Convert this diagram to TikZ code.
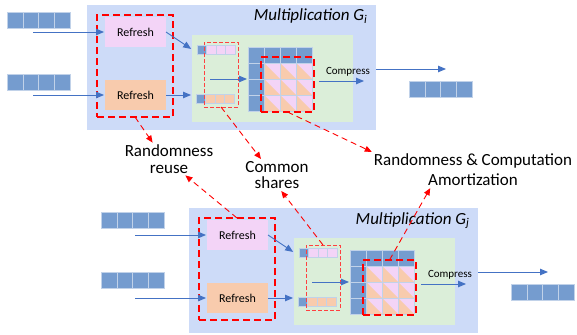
\documentclass[tikz,border=0pt]{standalone}
\usepackage{fontspec}
\setmainfont{Carlito}
\usetikzlibrary{arrows.meta}
\definecolor{mulblue}{RGB}{205,219,248}
\definecolor{mulgreen}{RGB}{219,238,217}
\definecolor{refpink}{RGB}{243,212,247}
\definecolor{reforange}{RGB}{248,203,173}
\definecolor{cellblue}{RGB}{117,156,207}
\definecolor{flowblue}{RGB}{68,114,196}
\begin{document}
\begin{tikzpicture}[x=1pt, y=-1pt,
  box/.style={inner sep=0, outer sep=0, minimum width=#1},
  flow/.style={-{Triangle[length=8pt,width=6.5pt]}, flowblue, line width=0.9pt, shorten >=1pt},
  hint/.style={-{Triangle[length=7pt,width=6pt]}, red, line width=0.9pt, dash pattern=on 6pt off 4pt},
  reddash/.style={draw=red, line width=1.3pt, dash pattern=on 7pt off 4pt},
  thindash/.style={draw=red!75!white, line width=0.7pt, dash pattern=on 4pt off 2pt},
  cell/.style={draw=white!55!cellblue, line width=0.5pt},
  label/.style={inner sep=2pt, align=center, font=\fontsize{17}{16.5}\selectfont},
  reftext/.style={font=\fontsize{12}{14}\selectfont},
  comptext/.style={font=\fontsize{11}{13}\selectfont},
  titletext/.style={font=\fontsize{17}{20}\selectfont\itshape}]
\useasboundingbox (0,0) rectangle (577,334);

\foreach \bx/\by in {7/12, 7/74, 101/212, 101/272}
  \foreach \k in {0,...,3}
    \draw[cell, fill=cellblue] (\bx+15.75*\k,\by) rectangle ++(15.75,16);

\foreach \sx/\sy/\g in {0/0/i, 102/203/j} {
\begin{scope}[shift={(\sx,\sy)}]
  \node[box=289, minimum height=125, fill=mulblue] (mul-\g) at (231.5,67.5) {};
  \node[titletext, anchor=base east] (ttl-\g) at (371,21) {Multiplication G\textsubscript{\g}};
  \node[box=161, minimum height=87, fill=mulgreen] (green-\g) at (272.5,78.5) {};
  \node[box=61, minimum height=30, fill=refpink, reftext] (refp-\g) at (135.5,32) {Refresh};
  \node[box=61, minimum height=30, fill=reforange, reftext] (refo-\g) at (135.5,95) {Refresh};
  \node[box=76, minimum height=102, reddash] (rbox-\g) at (135,66) {};
  \coordinate (sp-\g) at (197,49.5);

  \draw[cell, fill=cellblue] (197,45) rectangle ++(9,9);
  \foreach \k in {0,1,2}
    \draw[cell, fill=refpink] (206+9.8*\k,45) rectangle ++(9.8,9);
  \draw[cell, fill=cellblue] (196,94) rectangle ++(9,9);
  \foreach \k in {0,1,2}
    \draw[cell, fill=reforange] (205+9.8*\k,94) rectangle ++(9.8,9);
  \node[box=34, minimum height=65, thindash] (tbox-\g) at (221,74.5) {};

  \node[box=64, minimum height=64, fill=cellblue] (mat-\g) at (280,79) {};
  \foreach \r in {1,2,3}
    \foreach \c in {1,2,3} {
      \fill[refpink] (248+16*\c,47+16*\r) rectangle ++(16,16);
      \fill[reforange] (248+16*\c,47+16*\r) -- ++(0,16) -- ++(16,0) -- cycle;
    }
  \foreach \k in {0,...,4} {
    \draw[cell] (248+16*\k,47) -- ++(0,64);
    \draw[cell] (248,47+16*\k) -- ++(64,0);
  }
  \node[box=53, minimum height=55, reddash] (thk-\g) at (287.5,84.5) {};
  \node[comptext] (comp-\g) at (348,72) {Compress};

  \draw[flow] ([xshift=-72pt]refp-\g.west) -- (refp-\g.west);
  \draw[flow] ([xshift=-72pt]refo-\g.west) -- (refo-\g.west);
  \draw[flow] (refp-\g.east) -- (green-\g.west |- sp-\g);
  \draw[flow] (refo-\g.east) -- (refo-\g.east -| green-\g.west);
  \draw[flow] ([xshift=-38pt]mat-\g.west) -- (mat-\g.west);
  \draw[flow] ([shift={(7,2)}]mat-\g.east) -- ++(46,0);
  \draw[flow] ([yshift=-1.5pt]mul-\g.east) -- ++(71,0);
  \foreach \k in {0,...,3}
    \draw[cell, fill=cellblue] (409+15.75*\k,81) rectangle ++(15.75,16);
\end{scope}
}

\node[label] (reuse) at (169,159) {Randomness\\reuse};
\node[label] (common) at (277,175) {Common\\shares};
\node[label, font=\fontsize{17}{20}\selectfont] (amort) at (473,170) {Randomness \& Computation\\Amortization};

\draw[hint] (rbox-i.south) -- (reuse.135);
\draw[hint] (tbox-i.south) -- (common.135);
\draw[hint] (thk-i.south) -- (amort.north west);
\draw[hint] (rbox-j.north) -- (reuse.-45);
\draw[hint] (tbox-j.north) -- (common.-75);
\draw[hint] (thk-j.north) -- (amort.-157);
\end{tikzpicture}
\end{document}
